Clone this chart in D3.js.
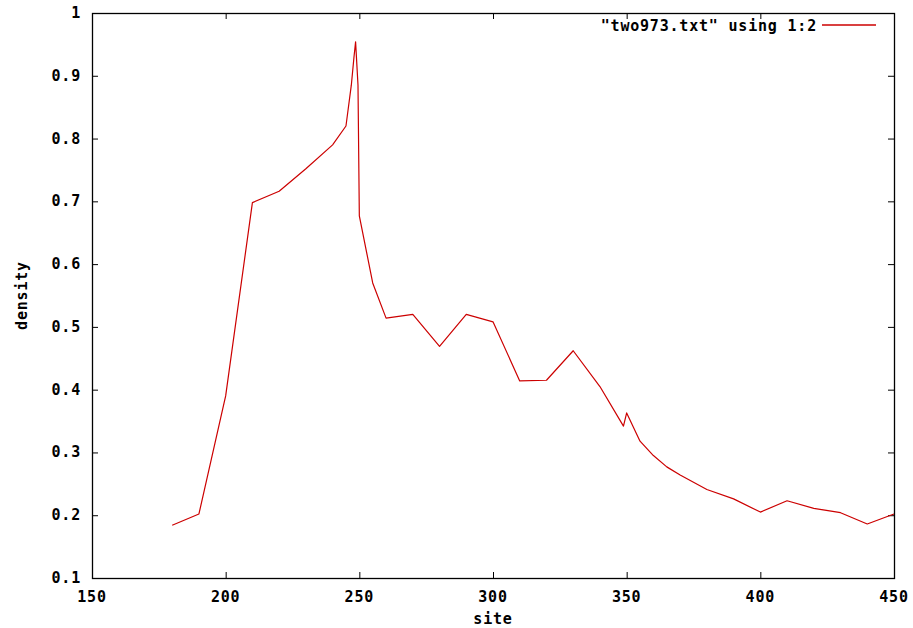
<!DOCTYPE html>
<html>
<head>
<meta charset="utf-8">
<script src="https://cdn.jsdelivr.net/npm/d3@7"></script>
<style>
  body { margin: 0; background: #fff; }
  text { font-family: 'DejaVu Sans Mono', monospace; font-weight: bold; font-size: 15px; fill: #000; letter-spacing: 0.8px; }
</style>
</head>
<body>
<div id="chart"></div>
<script>
// data
const sites = [180, 190, 200, 210, 220, 230, 240, 245, 247, 248, 248.6, 249.5, 250, 255, 260, 270, 280, 290, 300,
  310, 320, 330, 340, 348.8, 350, 355, 360, 365, 370, 380, 390, 400, 410, 420, 430, 440, 450];
const density = [0.184, 0.202, 0.39, 0.698, 0.716, 0.752, 0.79, 0.82, 0.885, 0.93, 0.954, 0.885, 0.677, 0.57, 0.514,
  0.52, 0.469, 0.52, 0.508, 0.414, 0.415, 0.462, 0.405, 0.342, 0.363, 0.318, 0.295, 0.277, 0.264, 0.241, 0.226,
  0.205, 0.223, 0.211, 0.204, 0.186, 0.202];
const xTicks = [150, 200, 250, 300, 350, 400, 450];
const yTicks = [0.1, 0.2, 0.3, 0.4, 0.5, 0.6, 0.7, 0.8, 0.9, 1];
const legendLabel = '"two973.txt" using 1:2';

const width = 913, height = 628;
const plotL = 92, plotR = 894, plotT = 13, plotB = 578;
const tick = 6;

const svg = d3.select('#chart').append('svg')
  .attr('width', width)
  .attr('height', height);

const x = d3.scaleLinear().domain([150, 450]).range([plotL, plotR]);
const y = d3.scaleLinear().domain([0.1, 1]).range([plotB, plotT]);

const fmtY = d => d === 1 ? '1' : d3.format('.1f')(d);

// ticks (inward, mirrored like gnuplot)
const g = svg.append('g').attr('stroke', '#000').attr('stroke-width', 1);
xTicks.forEach(t => {
  g.append('line').attr('x1', x(t) + 0.5).attr('x2', x(t) + 0.5).attr('y1', plotB).attr('y2', plotB - tick);
  g.append('line').attr('x1', x(t) + 0.5).attr('x2', x(t) + 0.5).attr('y1', plotT).attr('y2', plotT + tick);
});
yTicks.forEach(t => {
  g.append('line').attr('x1', plotL).attr('x2', plotL + tick).attr('y1', y(t) + 0.5).attr('y2', y(t) + 0.5);
  g.append('line').attr('x1', plotR).attr('x2', plotR - tick).attr('y1', y(t) + 0.5).attr('y2', y(t) + 0.5);
});

// tick labels
svg.append('g').selectAll('text').data(xTicks).join('text')
  .attr('x', d => x(d))
  .attr('y', 602)
  .attr('text-anchor', 'middle')
  .text(d => d);

svg.append('g').selectAll('text').data(yTicks).join('text')
  .attr('x', 81)
  .attr('y', d => y(d) + 5)
  .attr('text-anchor', 'end')
  .text(fmtY);

// axis titles
svg.append('text')
  .attr('x', (plotL + plotR) / 2)
  .attr('y', 624)
  .attr('text-anchor', 'middle')
  .text('site');

svg.append('text')
  .attr('transform', `translate(27, ${(plotT + plotB) / 2}) rotate(-90)`)
  .attr('text-anchor', 'middle')
  .text('density');

// data line
const line = d3.line()
  .x((d, i) => x(sites[i]))
  .y(d => y(d));

svg.append('path')
  .datum(density)
  .attr('d', line)
  .attr('fill', 'none')
  .attr('stroke', '#cc0000')
  .attr('stroke-width', 1.2)
  .attr('stroke-linejoin', 'round');

// frame
svg.append('rect')
  .attr('x', plotL + 0.5)
  .attr('y', plotT + 0.5)
  .attr('width', plotR - plotL)
  .attr('height', plotB - plotT)
  .attr('fill', 'none')
  .attr('stroke', '#000')
  .attr('stroke-width', 1.3);

// legend
svg.append('text')
  .attr('x', 817)
  .attr('y', 31)
  .attr('text-anchor', 'end')
  .text(legendLabel);

svg.append('line')
  .attr('x1', 822).attr('x2', 876)
  .attr('y1', 25).attr('y2', 25)
  .attr('stroke', '#cc0000')
  .attr('stroke-width', 1.5);
</script>
</body>
</html>
